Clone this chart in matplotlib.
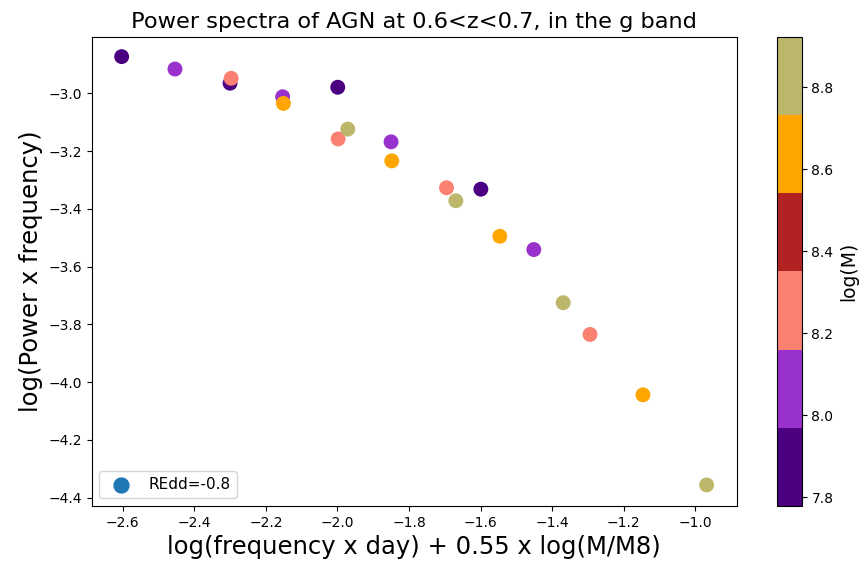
import matplotlib
matplotlib.use("Agg")
import matplotlib.pyplot as plt
import numpy as np
from matplotlib.colors import ListedColormap, Normalize

# Data: each mass group has 4 points
group_logM = [7.85, 8.05, 8.25, 8.65, 8.85]
x_indigo = [-2.603, -2.300, -1.999, -1.599]
y_indigo = [-2.873, -2.965, -2.979, -3.332]
x_orchid = [-2.454, -2.153, -1.850, -1.451]
y_orchid = [-2.916, -3.012, -3.168, -3.541]
x_salmon = [-2.297, -1.998, -1.695, -1.294]
y_salmon = [-2.948, -3.158, -3.327, -3.835]
x_orange = [-2.151, -1.848, -1.546, -1.146]
y_orange = [-3.035, -3.234, -3.495, -4.044]
x_khaki = [-1.971, -1.669, -1.369, -0.968]
y_khaki = [-3.124, -3.372, -3.725, -4.356]

cmap_colors = ["indigo", "darkorchid", "salmon", "firebrick", "orange", "darkkhaki"]
logM_min, logM_max = 7.778, 8.923
cbar_ticks = [7.8, 8.0, 8.2, 8.4, 8.6, 8.8]
legend_label = "REdd=-0.8"

xs = [x_indigo, x_orchid, x_salmon, x_orange, x_khaki]
ys = [y_indigo, y_orchid, y_salmon, y_orange, y_khaki]
x_all = np.concatenate(xs)
y_all = np.concatenate(ys)
c_all = np.concatenate([[m] * len(x) for m, x in zip(group_logM, xs)])

fig = plt.figure(figsize=(8.59, 5.62), dpi=100)
ax = fig.add_axes([0.1068, 0.0996, 0.7508, 0.8351])
cax = fig.add_axes([0.9042, 0.0996, 0.0291, 0.8351])

cmap = ListedColormap(cmap_colors)
norm = Normalize(vmin=logM_min, vmax=logM_max)
sc = ax.scatter(x_all, y_all, c=c_all, cmap=cmap, norm=norm, s=115, linewidths=0)
ax.scatter([], [], s=115, color="C0", label=legend_label)

ax.set_xlim(-2.6866, -0.884)
ax.set_ylim(-4.429, -2.804)
ax.set_xticks(np.arange(-2.6, -0.95, 0.2))
ax.set_yticks(np.arange(-4.4, -2.95, 0.2))
ax.tick_params(labelsize=10)
ax.set_xlabel("log(frequency x day) + 0.55 x log(M/M8)", fontsize=17.5)
ax.set_ylabel("log(Power x frequency)", fontsize=17.5)
ax.set_title("Power spectra of AGN at 0.6<z<0.7, in the g band", fontsize=16.2)
ax.legend(loc="lower left", fontsize=11)

cb = fig.colorbar(sc, cax=cax, ticks=cbar_ticks)
cb.ax.tick_params(labelsize=10)
cb.set_label("log(M)", fontsize=13.5)

fig.savefig("out.png", dpi=100)
